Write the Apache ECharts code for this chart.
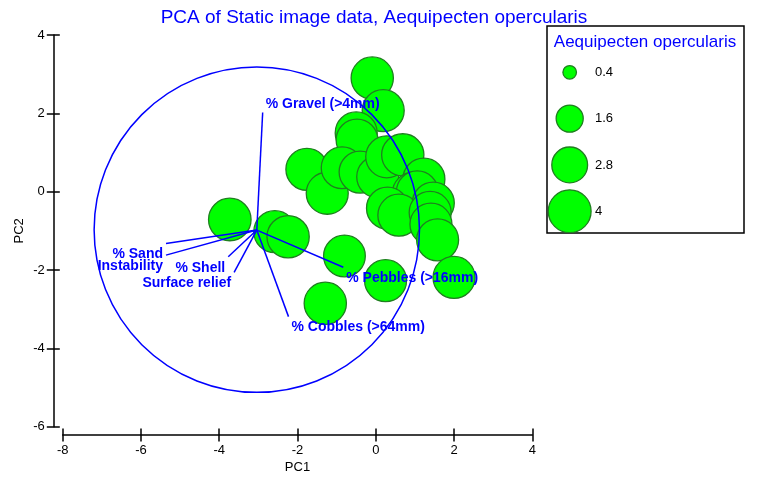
<!DOCTYPE html>
<html><head><meta charset="utf-8">
<script src="https://cdn.jsdelivr.net/npm/echarts@6/dist/echarts.min.js"></script>
<style>html,body{margin:0;padding:0;background:#fff}#c{width:757px;height:483px}</style>
</head><body><div id="c"></div>
<script>
// ---- data ----
const pcX = [-0.09, 0.19, -0.50, -0.48, -1.76, -1.24, -0.86, -0.40, 0.05, 0.28, 0.69, 1.23, 0.96, 1.06, 1.47, 0.30, 0.59, 1.39, 1.41, 1.58, 2.00, 0.25, -0.80, -1.29, -3.73, -2.58, -2.24];
const pcY = [2.90, 2.07, 1.50, 1.32, 0.57, -0.04, 0.61, 0.50, 0.38, 0.89, 0.94, 0.32, -0.04, 0.00, -0.29, -0.42, -0.60, -0.53, -0.83, -1.23, -2.19, -2.27, -1.64, -2.85, -0.71, -1.02, -1.15];
const abundance = [3.9, 3.85, 3.85, 3.8, 3.85, 3.85, 3.8, 3.85, 3.85, 3.85, 3.9, 3.85, 3.85, 3.8, 3.85, 3.85, 3.85, 3.85, 3.85, 3.85, 3.85, 3.85, 3.8, 3.9, 3.95, 3.85, 3.9];
const vectorNames = ['% Gravel (>4mm)', '% Sand', 'Instability', '% Shell', 'Surface relief', '% Pebbles (>16mm)', '% Cobbles (>64mm)'];
const vectorEndX = [-2.89, -5.36, -5.36, -3.77, -3.62, -0.83, -2.23];
const vectorEndY = [2.02, -1.32, -1.62, -1.66, -2.06, -1.93, -3.19];
const vectorOrigin = [-3.04, -0.98];
const circleCentre = [-3.04, -0.97];
const circleRadius = 4.155;
const legendValues = [0.4, 1.6, 2.8, 4];
const xRange = [-8, 4, 2];
const yRange = [-6, 4, 2];
const titleText = 'PCA of Static image data, Aequipecten opercularis';
const legendTitle = 'Aequipecten opercularis';

// ---- styles ----
const FONT = 'Arial, "Liberation Sans", sans-serif';
const BLUE = '#0000ff';
const bubbleDiam = v => 21.4 * Math.sqrt(v);
const bubbleStyle = { color: '#00ff00', borderColor: '#1f7f1f', borderWidth: 1.3, opacity: 1 };
const axisCommon = {
  type: 'value', gridIndex: 0,
  axisLine: { show: true, onZero: false, lineStyle: { color: '#000', width: 1.5 } },
  splitLine: { show: false }
};

const chart = echarts.init(document.getElementById('c'), null, { renderer: 'canvas' });

const vectorLabels = vectorNames.map((n, i) => {
  const dx = vectorEndX[i] - vectorOrigin[0];
  const dy = vectorEndY[i] - vectorOrigin[1];
  const left = dx >= 0;
  const up = dy > 0;
  return {
    name: n,
    value: [vectorEndX[i], vectorEndY[i]],
    label: {
      position: [left ? 3 : -3, up ? -1 : 4],
      align: left ? 'left' : 'right',
      verticalAlign: up ? 'bottom' : 'top'
    }
  };
});

const option = {
  animation: false,
  backgroundColor: '#fff',
  title: [
    { text: titleText, left: 369, top: 3, textAlign: 'center',
      textStyle: { color: BLUE, fontSize: 19, fontWeight: 'normal', fontFamily: FONT } },
    { text: legendTitle, left: 640, top: 29, textAlign: 'center',
      textStyle: { color: BLUE, fontSize: 17, fontWeight: 'normal', fontFamily: FONT } }
  ],
  grid: [
    { left: 62.7, right: 224.7, top: 35, bottom: 56.3 },
    { left: 547, top: 26, width: 197, height: 207, show: true, borderColor: '#000', borderWidth: 1.5, backgroundColor: 'transparent' }
  ],
  xAxis: [
    Object.assign({}, axisCommon, {
      min: xRange[0], max: xRange[1], interval: xRange[2], position: 'bottom', offset: 8.3,
      axisTick: { show: true, inside: false, length: 6.5, lineStyle: { color: '#000', width: 1.5 } },
      axisLabel: { margin: 9, color: '#000', fontSize: 13, fontFamily: FONT },
      name: 'PC1', nameLocation: 'middle', nameGap: 26, nameMoveOverlap: false,
      nameTextStyle: { color: '#000', fontSize: 13, fontFamily: FONT }
    }),
    Object.assign({}, axisCommon, {
      min: xRange[0], max: xRange[1], interval: xRange[2], position: 'bottom', offset: 8.3,
      axisLine: { show: false, onZero: false },
      axisTick: { show: true, inside: true, length: 6.5, lineStyle: { color: '#000', width: 1.5 } },
      axisLabel: { show: false }
    }),
    { type: 'value', gridIndex: 1, min: 0, max: 1, show: false }
  ],
  yAxis: [
    Object.assign({}, axisCommon, {
      min: yRange[0], max: yRange[1], interval: yRange[2], position: 'left', offset: 9.4,
      axisTick: { show: true, inside: false, length: 6.5, lineStyle: { color: '#000', width: 1.5 } },
      axisLabel: { margin: 8.5, color: '#000', fontSize: 13, fontFamily: FONT },
      name: 'PC2', nameLocation: 'middle', nameGap: 27, nameRotate: 90, nameMoveOverlap: false,
      nameTextStyle: { color: '#000', fontSize: 13, fontFamily: FONT }
    }),
    Object.assign({}, axisCommon, {
      min: yRange[0], max: yRange[1], interval: yRange[2], position: 'left', offset: 9.4,
      axisLine: { show: false, onZero: false },
      axisTick: { show: true, inside: true, length: 6.5, lineStyle: { color: '#000', width: 1.5 } },
      axisLabel: { show: false }
    }),
    { type: 'value', gridIndex: 1, min: -1, max: 3.47, inverse: true, show: false }
  ],
  series: [
    {
      type: 'scatter', xAxisIndex: 0, yAxisIndex: 0, z: 2,
      data: pcX.map((x, i) => [x, pcY[i], abundance[i]]),
      symbolSize: v => bubbleDiam(v[2]),
      itemStyle: bubbleStyle,
      emphasis: { disabled: true }, silent: true
    },
    {
      type: 'custom', xAxisIndex: 0, yAxisIndex: 0, z: 3, clip: false,
      data: [[circleCentre[0], circleCentre[1], circleRadius]],
      renderItem: (params, api) => {
        const c = api.coord([api.value(0), api.value(1)]);
        const rx = api.size([api.value(2), 0])[0];
        const ry = api.size([0, api.value(2)])[1];
        return { type: 'circle', shape: { cx: c[0], cy: c[1], r: (rx + ry) / 2 },
          style: { fill: null, stroke: BLUE, lineWidth: 1.5 } };
      }
    },
    {
      type: 'lines', coordinateSystem: 'cartesian2d', xAxisIndex: 0, yAxisIndex: 0, z: 4,
      data: vectorNames.map((n, i) => ({ coords: [vectorOrigin, [vectorEndX[i], vectorEndY[i]]] })),
      lineStyle: { color: BLUE, width: 1.5, opacity: 1, curveness: 0 },
      symbol: ['none', 'none'], silent: true
    },
    {
      type: 'scatter', xAxisIndex: 0, yAxisIndex: 0, z: 5,
      data: vectorLabels, symbolSize: 0, silent: true,
      itemStyle: { opacity: 1 },
      label: { show: true, formatter: p => p.name, color: BLUE, opacity: 1, fontSize: 14, fontWeight: 'bold', fontFamily: FONT }
    },
    {
      type: 'scatter', xAxisIndex: 2, yAxisIndex: 2, z: 2,
      data: legendValues.map((v, i) => [0.1152, i, v]),
      symbolSize: v => bubbleDiam(v[2]),
      itemStyle: bubbleStyle, silent: true
    },
    {
      type: 'scatter', xAxisIndex: 2, yAxisIndex: 2, z: 3,
      data: legendValues.map((v, i) => ({ value: [0.2437, i], name: String(v) })),
      symbolSize: 0, silent: true,
      itemStyle: { opacity: 1 },
      label: { show: true, position: 'right', distance: 0, formatter: p => p.name, color: '#000', opacity: 1, fontSize: 13, fontFamily: FONT }
    }
  ]
};
chart.setOption(option);
</script>
</body></html>
